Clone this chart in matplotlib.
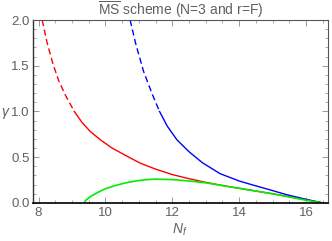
import numpy as np
import matplotlib
matplotlib.use("Agg")
import matplotlib.pyplot as plt
from matplotlib.ticker import MultipleLocator

plt.rcParams["font.family"] = ["Liberation Sans", "DejaVu Sans"]
plt.rcParams["mathtext.fontset"] = "custom"
plt.rcParams["mathtext.rm"] = "Liberation Sans"
plt.rcParams["mathtext.it"] = "Liberation Sans:italic"

# red curve (dashed part, then solid part)
red_dash_nf = [8.11, 8.25, 8.43, 8.6, 8.8, 9.07]
red_dash_g = [2.0, 1.76, 1.52, 1.34, 1.18, 1.0]
red_nf = [9.07, 9.3, 9.55, 9.85, 10.2, 10.6, 11.04, 11.5, 12.0, 12.5, 13.0, 13.5,
          14.0, 14.5, 15.0, 15.5, 16.0, 16.5]
red_g = [1.0, 0.88, 0.78, 0.69, 0.60, 0.52, 0.435, 0.37, 0.31, 0.265, 0.225, 0.19,
         0.16, 0.13, 0.10, 0.068, 0.034, 0.0]

# blue curve
blue_dash_nf = [10.74, 10.9, 11.14, 11.4, 11.62]
blue_dash_g = [2.0, 1.75, 1.44, 1.19, 1.0]
blue_nf = [11.62, 11.85, 12.14, 12.5, 12.9, 13.43, 14.0, 14.42, 15.0, 15.42, 16.0, 16.5]
blue_g = [1.0, 0.84, 0.69, 0.56, 0.44, 0.32, 0.24, 0.195, 0.135, 0.09, 0.04, 0.0]

# green curve
green_nf = [9.37, 9.4, 9.5, 9.6, 9.8, 10.0, 10.25, 10.5, 10.75, 11.0, 11.25, 11.5, 12.0, 12.5,
            13.0, 13.5, 14.0, 14.5, 15.0, 15.5, 16.0, 16.5]
green_g = [0.0, 0.025, 0.055, 0.08, 0.12, 0.155, 0.185, 0.21, 0.23, 0.245, 0.255, 0.26, 0.255,
           0.24, 0.22, 0.19, 0.16, 0.13, 0.10, 0.065, 0.03, 0.0]

gray = "#606060"

fig = plt.figure(figsize=(3.32, 2.41), dpi=100)
ax = fig.add_axes([0.098, 0.158, 0.89, 0.759])

dash = (0, (4.5, 2.5))
ax.plot(red_dash_nf, red_dash_g, color="#ff0000", lw=1.0, linestyle=dash)
ax.plot(red_nf, red_g, color="#ff0000", lw=1.0)
ax.plot(blue_dash_nf, blue_dash_g, color="#0000ff", lw=1.0, linestyle=dash)
ax.plot(blue_nf, blue_g, color="#0000ff", lw=1.0)
ax.plot(green_nf, green_g, color="#00ee00", lw=1.2)

ax.set_xlim(7.82, 16.66)
ax.set_ylim(0, 2.0)
ax.xaxis.set_major_locator(MultipleLocator(2))
ax.xaxis.set_minor_locator(MultipleLocator(0.5))
ax.yaxis.set_major_locator(MultipleLocator(0.5))
ax.yaxis.set_minor_locator(MultipleLocator(0.1))
ax.yaxis.set_major_formatter(plt.FuncFormatter(lambda v, p: f"{v:.1f}"))

ax.tick_params(which="both", direction="in", top=True, right=True, colors="#888888",
               labelcolor=gray, labelsize=9.5)
ax.tick_params(which="major", length=4, width=0.6)
ax.tick_params(which="minor", length=2, width=0.5)
ax.tick_params(axis="x", pad=3)
ax.tick_params(axis="y", pad=2)

for side in ["top", "right"]:
    ax.spines[side].set_color("#555555")
    ax.spines[side].set_linewidth(0.8)
ax.spines["left"].set_color("#333333")
ax.spines["left"].set_linewidth(1.0)
ax.spines["bottom"].set_color("#111111")
ax.spines["bottom"].set_linewidth(1.3)

ax.set_title(r"$\overline{\rm MS}$ scheme (N=3 and r=F)", color=gray, fontsize=10, pad=3)
ax.set_xlabel(r"$N_f$", color=gray, fontsize=10, labelpad=2)
ax.set_ylabel(r"$\gamma$", color=gray, fontsize=10, rotation=0, va="center", ha="center")
ax.yaxis.set_label_coords(-0.09, 0.49)

fig.savefig("out.png", dpi=100)
